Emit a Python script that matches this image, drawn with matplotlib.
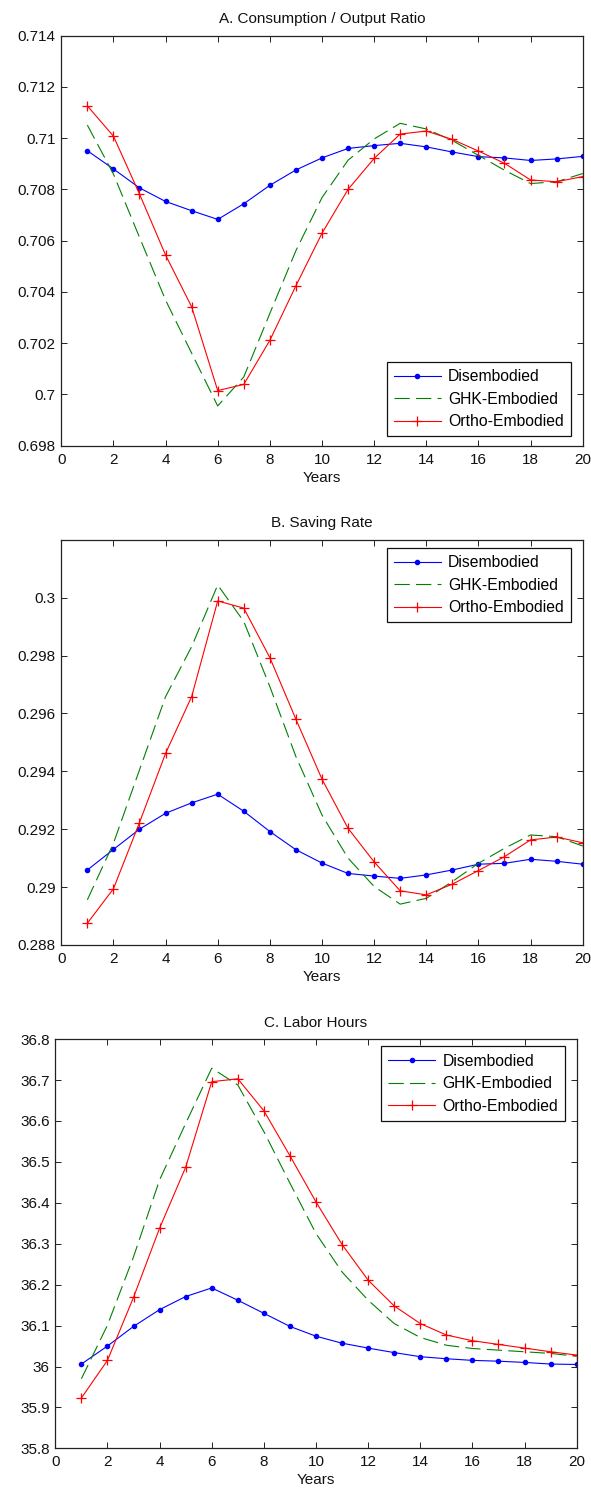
import matplotlib
matplotlib.use("Agg")
import matplotlib.pyplot as plt
from matplotlib.ticker import FuncFormatter

plt.rcParams['font.family'] = ['Liberation Sans', 'DejaVu Sans']
plt.rcParams['lines.scale_dashes'] = False

years = list(range(1, 21))
series_names = ["Disembodied", "GHK-Embodied", "Ortho-Embodied"]

# Panel A: Consumption / Output Ratio
cy_dis = [0.70951, 0.70880, 0.70806, 0.70753, 0.70717, 0.70683, 0.70744, 0.70816, 0.70876, 0.70923,
          0.70960, 0.70971, 0.70980, 0.70966, 0.70946, 0.70928, 0.70923, 0.70913, 0.70919, 0.70929]
cy_ghk = [0.71051, 0.70860, 0.70613, 0.70368, 0.70161, 0.69955, 0.70068, 0.70316, 0.70561, 0.70768,
          0.70914, 0.70997, 0.71058, 0.71036, 0.70991, 0.70933, 0.70875, 0.70823, 0.70830, 0.70862]
cy_ortho = [0.71126, 0.71008, 0.70782, 0.70544, 0.70342, 0.70015, 0.70039, 0.70211, 0.70424, 0.70629,
            0.70800, 0.70921, 0.71016, 0.71028, 0.70995, 0.70950, 0.70902, 0.70837, 0.70830, 0.70850]

# Panel B: Saving Rate
sr_dis = [0.29059, 0.29130, 0.29200, 0.29255, 0.29291, 0.29321, 0.29262, 0.29192, 0.29129, 0.29083,
          0.29047, 0.29038, 0.29030, 0.29042, 0.29059, 0.29079, 0.29082, 0.29096, 0.29089, 0.29079]
sr_ghk = [0.28956, 0.29151, 0.29405, 0.29658, 0.29831, 0.30044, 0.29918, 0.29693, 0.29451, 0.29249,
          0.29100, 0.29002, 0.28941, 0.28961, 0.29019, 0.29082, 0.29134, 0.29180, 0.29174, 0.29142]
sr_ortho = [0.28875, 0.28994, 0.29223, 0.29462, 0.29658, 0.29989, 0.29964, 0.29793, 0.29580, 0.29373,
            0.29203, 0.29087, 0.28987, 0.28973, 0.29010, 0.29057, 0.29105, 0.29163, 0.29173, 0.29153]

# Panel C: Labor Hours
lh_dis = [36.006, 36.050, 36.098, 36.139, 36.171, 36.192, 36.162, 36.130, 36.098, 36.074,
          36.057, 36.045, 36.034, 36.024, 36.019, 36.015, 36.013, 36.010, 36.006, 36.005]
lh_ghk = [35.970, 36.101, 36.268, 36.456, 36.594, 36.729, 36.688, 36.574, 36.448, 36.325,
          36.231, 36.162, 36.105, 36.071, 36.052, 36.044, 36.040, 36.036, 36.032, 36.025]
lh_ortho = [35.923, 36.015, 36.169, 36.338, 36.487, 36.696, 36.703, 36.625, 36.515, 36.402,
            36.298, 36.211, 36.148, 36.105, 36.077, 36.063, 36.054, 36.045, 36.036, 36.028]

titles = ["A. Consumption / Output Ratio", "B. Saving Rate", "C. Labor Hours"]
xticks = [0, 2, 4, 6, 8, 10, 12, 14, 16, 18, 20]
yticks_a = [0.698, 0.700, 0.702, 0.704, 0.706, 0.708, 0.710, 0.712, 0.714]
yticks_b = [0.288, 0.290, 0.292, 0.294, 0.296, 0.298, 0.300]
yticks_c = [35.8, 35.9, 36.0, 36.1, 36.2, 36.3, 36.4, 36.5, 36.6, 36.7, 36.8]

panels = [
    dict(rect=[0.1037, 0.7015, 0.8822, 0.2746], data=(cy_dis, cy_ghk, cy_ortho),
         ylim=(0.698, 0.714), yticks=yticks_a, loc='lower right', anchor=(0.977, 0.023)),
    dict(rect=[0.1037, 0.3671, 0.8822, 0.2713], data=(sr_dis, sr_ghk, sr_ortho),
         ylim=(0.288, 0.302), yticks=yticks_b, loc='upper right', anchor=(0.977, 0.9795)),
    dict(rect=[0.0936, 0.0299, 0.8822, 0.2741], data=(lh_dis, lh_ghk, lh_ortho),
         ylim=(35.8, 36.8), yticks=yticks_c, loc='upper right', anchor=(0.978, 0.982)),
]

fig = plt.figure(figsize=(5.91, 14.93), dpi=100)
fs = 11
edge = '#222222'

def fmt(v, pos):
    return '%g' % round(v, 6)

for p, title in zip(panels, titles):
    ax = fig.add_axes(p['rect'])
    d_dis, d_ghk, d_ortho = p['data']
    ax.plot(years, d_dis, color=(0, 0, 1), lw=0.8, marker='.', ms=6, label=series_names[0])
    ax.plot(years, d_ghk, color=(0, 0.5, 0), lw=0.8, dashes=(11, 4.5), label=series_names[1])
    ax.plot(years, d_ortho, color=(1, 0, 0), lw=0.8, marker='+', ms=7.5, mew=0.9, label=series_names[2])
    ax.set_xlim(0, 20)
    ax.set_ylim(*p['ylim'])
    ax.set_xticks(xticks)
    ax.set_yticks(p['yticks'])
    ax.yaxis.set_major_formatter(FuncFormatter(fmt))
    ax.tick_params(direction='in', length=4, width=0.7, top=True, right=True,
                   labelsize=fs, colors=edge, labelcolor='#111111')
    ax.tick_params(axis='x', pad=5)
    ax.tick_params(axis='y', pad=4)
    for s in ax.spines.values():
        s.set_color(edge)
        s.set_linewidth(0.9)
    ax.set_title(title, fontsize=fs, pad=9, color='#111111')
    ax.set_xlabel("Years", fontsize=fs, labelpad=3, color='#111111')
    leg = ax.legend(loc=p['loc'], bbox_to_anchor=p['anchor'], borderaxespad=0,
                    fontsize=fs + 0.3, fancybox=False, framealpha=1, edgecolor='#111111',
                    handlelength=3.0, handletextpad=0.45, borderpad=0.45, labelspacing=0.48)
    leg.get_frame().set_linewidth(0.9)

fig.savefig("out.png", dpi=100, facecolor='white')
